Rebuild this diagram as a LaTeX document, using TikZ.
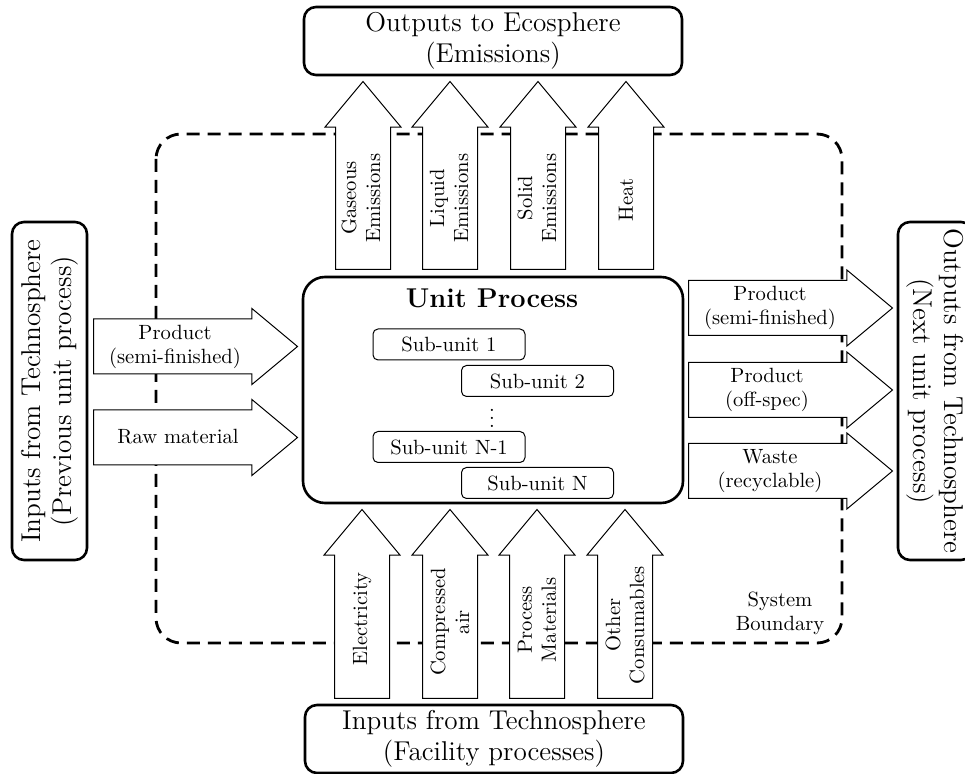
\documentclass[tikz,border=0pt]{standalone}
\usepackage{fontspec}
\usetikzlibrary{shapes.arrows}

\newcommand\flowsize{\fontsize{10.3}{12}\selectfont}
\newcommand\boxsize{\fontsize{13.6}{15.6}\selectfont}

\tikzset{
  px/.style={x=0.5pt,y=-0.5pt},
  bigbox/.style={draw, line width=1.3pt, rounded corners=6pt, font=\boxsize,
    align=center, inner sep=0, minimum width=189pt, minimum height=34pt},
  sidebox/.style={bigbox, minimum width=169pt, minimum height=37.5pt},
  procbox/.style={draw, line width=1.3pt, rounded corners=11pt, inner sep=0,
    minimum width=190pt, minimum height=113pt},
  subunit/.style={draw, line width=0.5pt, rounded corners=2.5pt, inner sep=0,
    minimum width=76pt, minimum height=15.5pt, font=\flowsize},
  % block arrow: shaft 27pt wide, head 37.5pt wide and 22.5pt long
  flow/.style={single arrow, draw, fill=white, line width=0.5pt,
    inner xsep=0pt, inner ysep=13.5pt,
    single arrow head extend=5.25pt, single arrow tip angle=79.6,
    anchor=tail},
  upflow/.style={flow, rotate=90, minimum height=94pt},
  sideflow/.style={flow, minimum height=102pt},
  flowtext/.style={font=\flowsize, align=center, inner sep=0},
  boundary/.style={line width=1.4pt, dash pattern=on 6.5pt off 4pt,
    rounded corners=12.5pt},
}

\begin{document}
\begin{tikzpicture}[px]
\useasboundingbox (0,0) rectangle (965,774);

% system boundary
\draw[boundary] (156,134) rectangle (842,643);
\node[flowtext] (sysb) at (780,613) {System\\Boundary};

% unit process with its sub-units
\node[procbox] (proc) at (493,390) {};
\node[font=\boxsize\bfseries, inner sep=0] (proctitle) at (492,298) {Unit Process};
\node[subunit] (su1) at (449,344.5) {Sub-unit 1};
\node[subunit] (su2) at (537.5,381) {Sub-unit 2};
\node[font=\flowsize, inner sep=0] (sudots) at (492,412) {$\vdots$};
\node[subunit] (sun1) at (449,447) {Sub-unit N-1};
\node[subunit] (sun) at (537.5,483) {Sub-unit N};

% surrounding systems
\node[bigbox] (eco) at (493,41) {Outputs to Ecosphere\\(Emissions)};
\node[bigbox] (fac) at (494,739) {Inputs from Technosphere\\(Facility processes)};
\node[sidebox, rotate=90] (prev) at (49.5,391) {Inputs from Technosphere\\(Previous unit process)};
\node[sidebox, rotate=-90] (next) at (935.5,391) {Outputs from Technosphere\\(Next unit process)};

% emissions leaving the process
\node[upflow] (gas) at (363,270) {};
\node[upflow] (liq) at (450,270) {};
\node[upflow] (sol) at (538,270) {};
\node[upflow] (heat) at (626,270) {};
\node[flowtext, rotate=90] (gas-t) at (361,198) {Gaseous\\Emissions};
\node[flowtext, rotate=90] (liq-t) at (449,198) {Liquid\\Emissions};
\node[flowtext, rotate=90] (sol-t) at (537,198) {Solid\\Emissions};
\node[flowtext, rotate=90] (heat-t) at (626,200) {Heat};

% facility inputs
\node[upflow, minimum height=94.5pt] (elec) at (362,699) {};
\node[upflow, minimum height=94.5pt] (air) at (450,699) {};
\node[upflow, minimum height=94.5pt] (mat) at (537,699) {};
\node[upflow, minimum height=94.5pt] (cons) at (625,699) {};
\node[flowtext, rotate=90] (elec-t) at (362,619) {Electricity};
\node[flowtext, rotate=90] (air-t) at (450,622) {Compressed\\air};
\node[flowtext, rotate=90] (mat-t) at (537,620) {Process\\Materials};
\node[flowtext, rotate=90] (cons-t) at (625,625) {Other\\Consumables};

% inputs from the previous unit process
\node[sideflow] (semi-in) at (93,346.5) {};
\node[sideflow] (raw) at (93,437.5) {};
\node[flowtext] (semi-in-t) at (175,347) {Product\\(semi-finished)};
\node[flowtext] (raw-t) at (178,437) {Raw material};

% outputs to the next unit process
\node[sideflow] (semi-out) at (688,308) {};
\node[sideflow] (offspec) at (688,390) {};
\node[sideflow] (waste) at (688,471) {};
\node[flowtext] (semi-out-t) at (770,308) {Product\\(semi-finished)};
\node[flowtext] (offspec-t) at (767,390) {Product\\(off-spec)};
\node[flowtext] (waste-t) at (770,471) {Waste\\(recyclable)};
\end{tikzpicture}
\end{document}
